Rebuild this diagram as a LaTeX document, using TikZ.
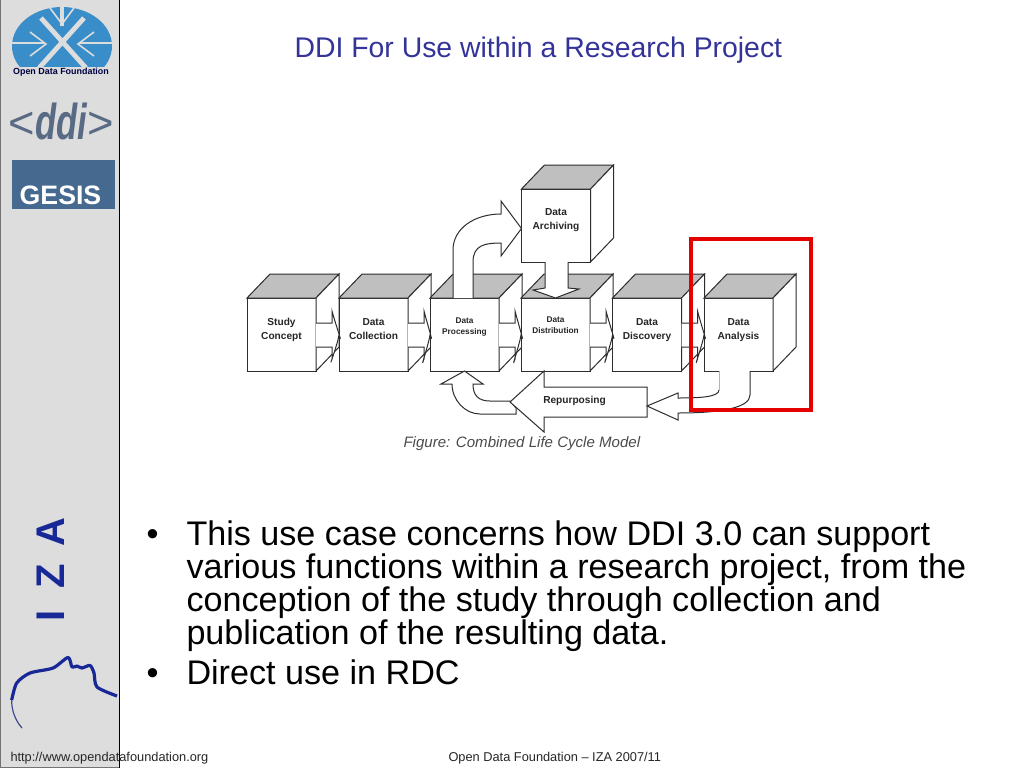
\documentclass[tikz,border=0pt]{standalone}
\usepackage{fontspec}
\setmainfont{Liberation Sans}
\usetikzlibrary{positioning, calc}
\definecolor{sidegray}{RGB}{221,221,221}
\definecolor{titleblue}{RGB}{51,51,153}
\definecolor{logoblue}{RGB}{57,142,201}
\definecolor{gesisblue}{RGB}{70,106,143}
\definecolor{izablue}{RGB}{24,40,150}
\definecolor{ddigray}{RGB}{88,106,132}
\definecolor{edgegray}{RGB}{45,45,45}
\tikzset{every picture/.style={line width=0.75pt}}
\tikzset{
  cubeface/.style={draw=edgegray, fill=white, minimum width=51.75pt, minimum height=54.75pt, inner sep=0pt, outer sep=0pt},
  cubetop/.style={draw=edgegray, fill=black!25},
  cubeside/.style={draw=edgegray, fill=white},
  cubelabel/.style={font=\bfseries\fontsize{7.6}{10.4}\selectfont, text=black!85, align=center, inner sep=0pt},
  cubesmall/.style={font=\bfseries\fontsize{6.2}{8.2}\selectfont, text=black!85, align=center, inner sep=0pt},
  blockarrow/.style={draw=edgegray, fill=white},
  slidetext/.style={anchor=base west, inner sep=0pt, align=left},
  bodytext/.style={slidetext, font=\fontsize{25.6}{26}\selectfont},
  footertext/.style={anchor=base west, inner sep=0pt, font=\fontsize{9.6}{11}\selectfont, text=black!85},
  izaletter/.style={rotate=90, inner sep=0pt, font=\bfseries\fontsize{30}{30}\selectfont, text=izablue},
}

\begin{document}
\begin{tikzpicture}[x=0.75pt,y=0.75pt,yscale=-1,xscale=1]
\useasboundingbox (0,0) rectangle (1024,768);

%Sidebar
\fill[white] (0,0) rectangle (1024,768);
\fill[sidegray] (0,0) rectangle (119,768);
\draw[black!55] (0.5,0) -- (0.5,767.5) -- (119,767.5);
\draw[black] (119.5,0) -- (119.5,768);

%Logo: dome
\begin{scope}
\clip (0,0) rectangle (119,66);
\fill[logoblue] (62,46) ellipse (50 and 39);
\draw[sidegray, line width=3.6pt] (41,18) -- (86,68);
\draw[sidegray, line width=3.6pt] (84,18) -- (39,68);
\draw[sidegray, line width=2.4pt] (62,0) -- (62,26);
\draw[sidegray, line width=1.6pt] (8,43) -- (44,43);
\draw[sidegray, line width=1.6pt] (80,43) -- (116,43);
\draw[sidegray, line width=1.2pt] (50,8) -- (62,24) -- (74,8);
\draw[sidegray, line width=1.2pt] (30,32) -- (46,44) -- (30,56);
\draw[sidegray, line width=1.2pt] (94,32) -- (78,44) -- (94,56);
\end{scope}
\node[inner sep=0pt, font=\bfseries\fontsize{6.7}{8}\selectfont, text=black!75!blue] (odflogo) at (61,72) {Open Data Foundation};

%Logo: ddi
\node[inner sep=0pt, font=\fontsize{34}{34}\selectfont, text=ddigray] (ddileft) at (22,125) {<};
\node[inner sep=0pt, font=\fontsize{34}{34}\selectfont, text=ddigray] (ddiright) at (101,125) {>};
\node[inner sep=0pt, font=\bfseries\itshape\fontsize{36}{36}\selectfont, text=ddigray, xscale=0.72, yscale=1.05] (ddilogo) at (61,121) {ddi};

%Logo: GESIS
\fill[gesisblue] (12,160) rectangle (115,209);
\node[anchor=base, inner sep=0pt, font=\bfseries\fontsize{20}{20}\selectfont, text=white] (gesislogo) at (60.5,204) {GESIS};

%Logo: IZA
\node[izaletter] (izaa) at (51,532) {A};
\node[izaletter] (izaz) at (51,576) {Z};
\node[izaletter] (izai) at (51,616) {I};
\draw[izablue!60!gray, line width=0.9pt] (22,728) .. controls (15,720) and (11.5,710) .. (11.7,700);
\draw[izablue, line width=2.4pt, line join=round] plot[smooth, tension=0.45] coordinates {(11.7,700) (16.7,683) (30,673) (53,668) (68,657.5) (72,667) (77,666) (82,668) (90,665.5) (94,673) (97,687) (117,696)};

%Title
\node[slidetext, font=\fontsize{21.3}{24}\selectfont, text=titleblue] (title) at (294,57) {DDI For Use within a Research Project};

%Cubes
\foreach \name/\cx/\cy in {study/281.5/334.5, collect/373.5/334.5, process/464.5/334.5, distrib/555.5/334.5, discover/647/334.5, analyse/738.5/334.5, archive/556/225.5}
{
  \node[cubeface] (\name) at (\cx,\cy) {};
  \draw[cubetop] (\name.north west) -- ++(23,-24) -- ++(69,0) -- (\name.north east) -- cycle;
  \draw[cubeside] (\name.north east) -- ++(23,-24) -- ++(0,73) -- (\name.south east) -- cycle;
}

\node[cubelabel] (studytext) at ($(study.center)+(0,-4.5)$) {Study\\Concept};
\node[cubelabel] (collecttext) at ($(collect.center)+(0,-5.5)$) {Data\\Collection};
\node[cubesmall] (processtext) at ($(process.center)+(0,-7.5)$) {Data\\Processing};
\node[cubesmall] (distribtext) at ($(distrib.center)+(0,-9)$) {Data\\Distribution};
\node[cubelabel] (discovertext) at ($(discover.center)+(0,-4.5)$) {Data\\Discovery};
\node[cubelabel] (analysetext) at ($(analyse.center)+(0,-4.5)$) {Data\\Analysis};
\node[cubelabel] (archivetext) at ($(archive.center)+(0,-5)$) {Data\\Archiving};

%Forward arrows
\foreach \from/\to in {study/collect, collect/process, process/distrib, distrib/discover, discover/analyse}
{
  \draw[blockarrow] ($(\from.east)+(0,-11.5)$) -- ++(16,0) -- ++(0,-12) .. controls +(2,8) and +(5,14) .. ($(\to.west)+(0,0.5)$) .. controls +(-1,8) and +(-5,14) .. ($(\from.east)+(16,24.5)$) -- ++(0,-12) -- ++(-16,0);
}

%Arrow to archive
\draw[blockarrow] ($(process.north)+(-11.5,0)$) -- (453,250) .. controls (453,228) and (475,214) .. (501,214) -- (501,201) -- ($(archive.west)+(0,3)$) -- (501,256) -- (501,243) .. controls (485,243) and (473,245) .. (473,262) -- ($(process.north)+(8.5,0)$);

%Arrow from archive
\draw[blockarrow] ($(archive.south)+(-11,0)$) -- (545,288) -- (533,290) -- (distrib.north) -- (579,289) -- (568,288) -- ($(archive.south)+(12,0)$);

%Return arrow
\draw[blockarrow] (process.south) -- (483,384) -- (473,384) .. controls (473,395) and (478,401) .. (490,401) -- (510,401) -- (516,408) -- (516,414) -- (480,414) .. controls (465,414) and (452,400) .. (452,384) -- (441,384) -- cycle;

%Repurposing
\draw[blockarrow] (510,402) -- (544,371) -- (544,387) -- (647,387) -- (647,417) -- (544,417) -- (544,432) -- cycle;
\node[cubelabel, anchor=center] (repurpose) at (574.5,401) {Repurposing};

%Arrow from analysis
\draw[blockarrow, draw=none] (750,371) -- (750,395) .. controls (750,408) and (720,413) .. (678,413) -- (678,420) -- (647,406) -- (678,393) -- (678,398) .. controls (700,398) and (719,397) .. (719,390) -- (719,371) -- cycle;
\draw[edgegray] (750,371) -- (750,395) .. controls (750,408) and (720,413) .. (678,413) -- (678,420) -- (647,406) -- (678,393) -- (678,398) .. controls (700,398) and (719,397) .. (719,390);
\draw[black!30] (719,390) -- (719,371);

%Highlight
\draw[red!90!black, line width=3.2pt, miter limit=10] (691,239) rectangle (811,410);

%Caption
\node[slidetext, font=\itshape\fontsize{11.3}{13}\selectfont, text=black!70] (caption) at (403,447) {Figure: Combined Life Cycle Model};

%Bullets
\node[bodytext] (bulletone) at (146,545) {•};
\node[bodytext] (bullettwo) at (146,684) {•};
\node[bodytext] (lineone) at (186,545) {This use case concerns how DDI 3.0 can support};
\node[bodytext] (linetwo) at (186,578) {various functions within a research project, from the};
\node[bodytext] (linethree) at (186,611) {conception of the study through collection and};
\node[bodytext] (linefour) at (186,644) {publication of the resulting data.};
\node[bodytext] (linefive) at (186,684) {Direct use in RDC};

%Footer
\node[footertext] (footleft) at (10,761) {http://www.opendatafoundation.org};
\node[footertext] (footright) at (448,761) {Open Data Foundation – IZA 2007/11};

\end{tikzpicture}
\end{document}
